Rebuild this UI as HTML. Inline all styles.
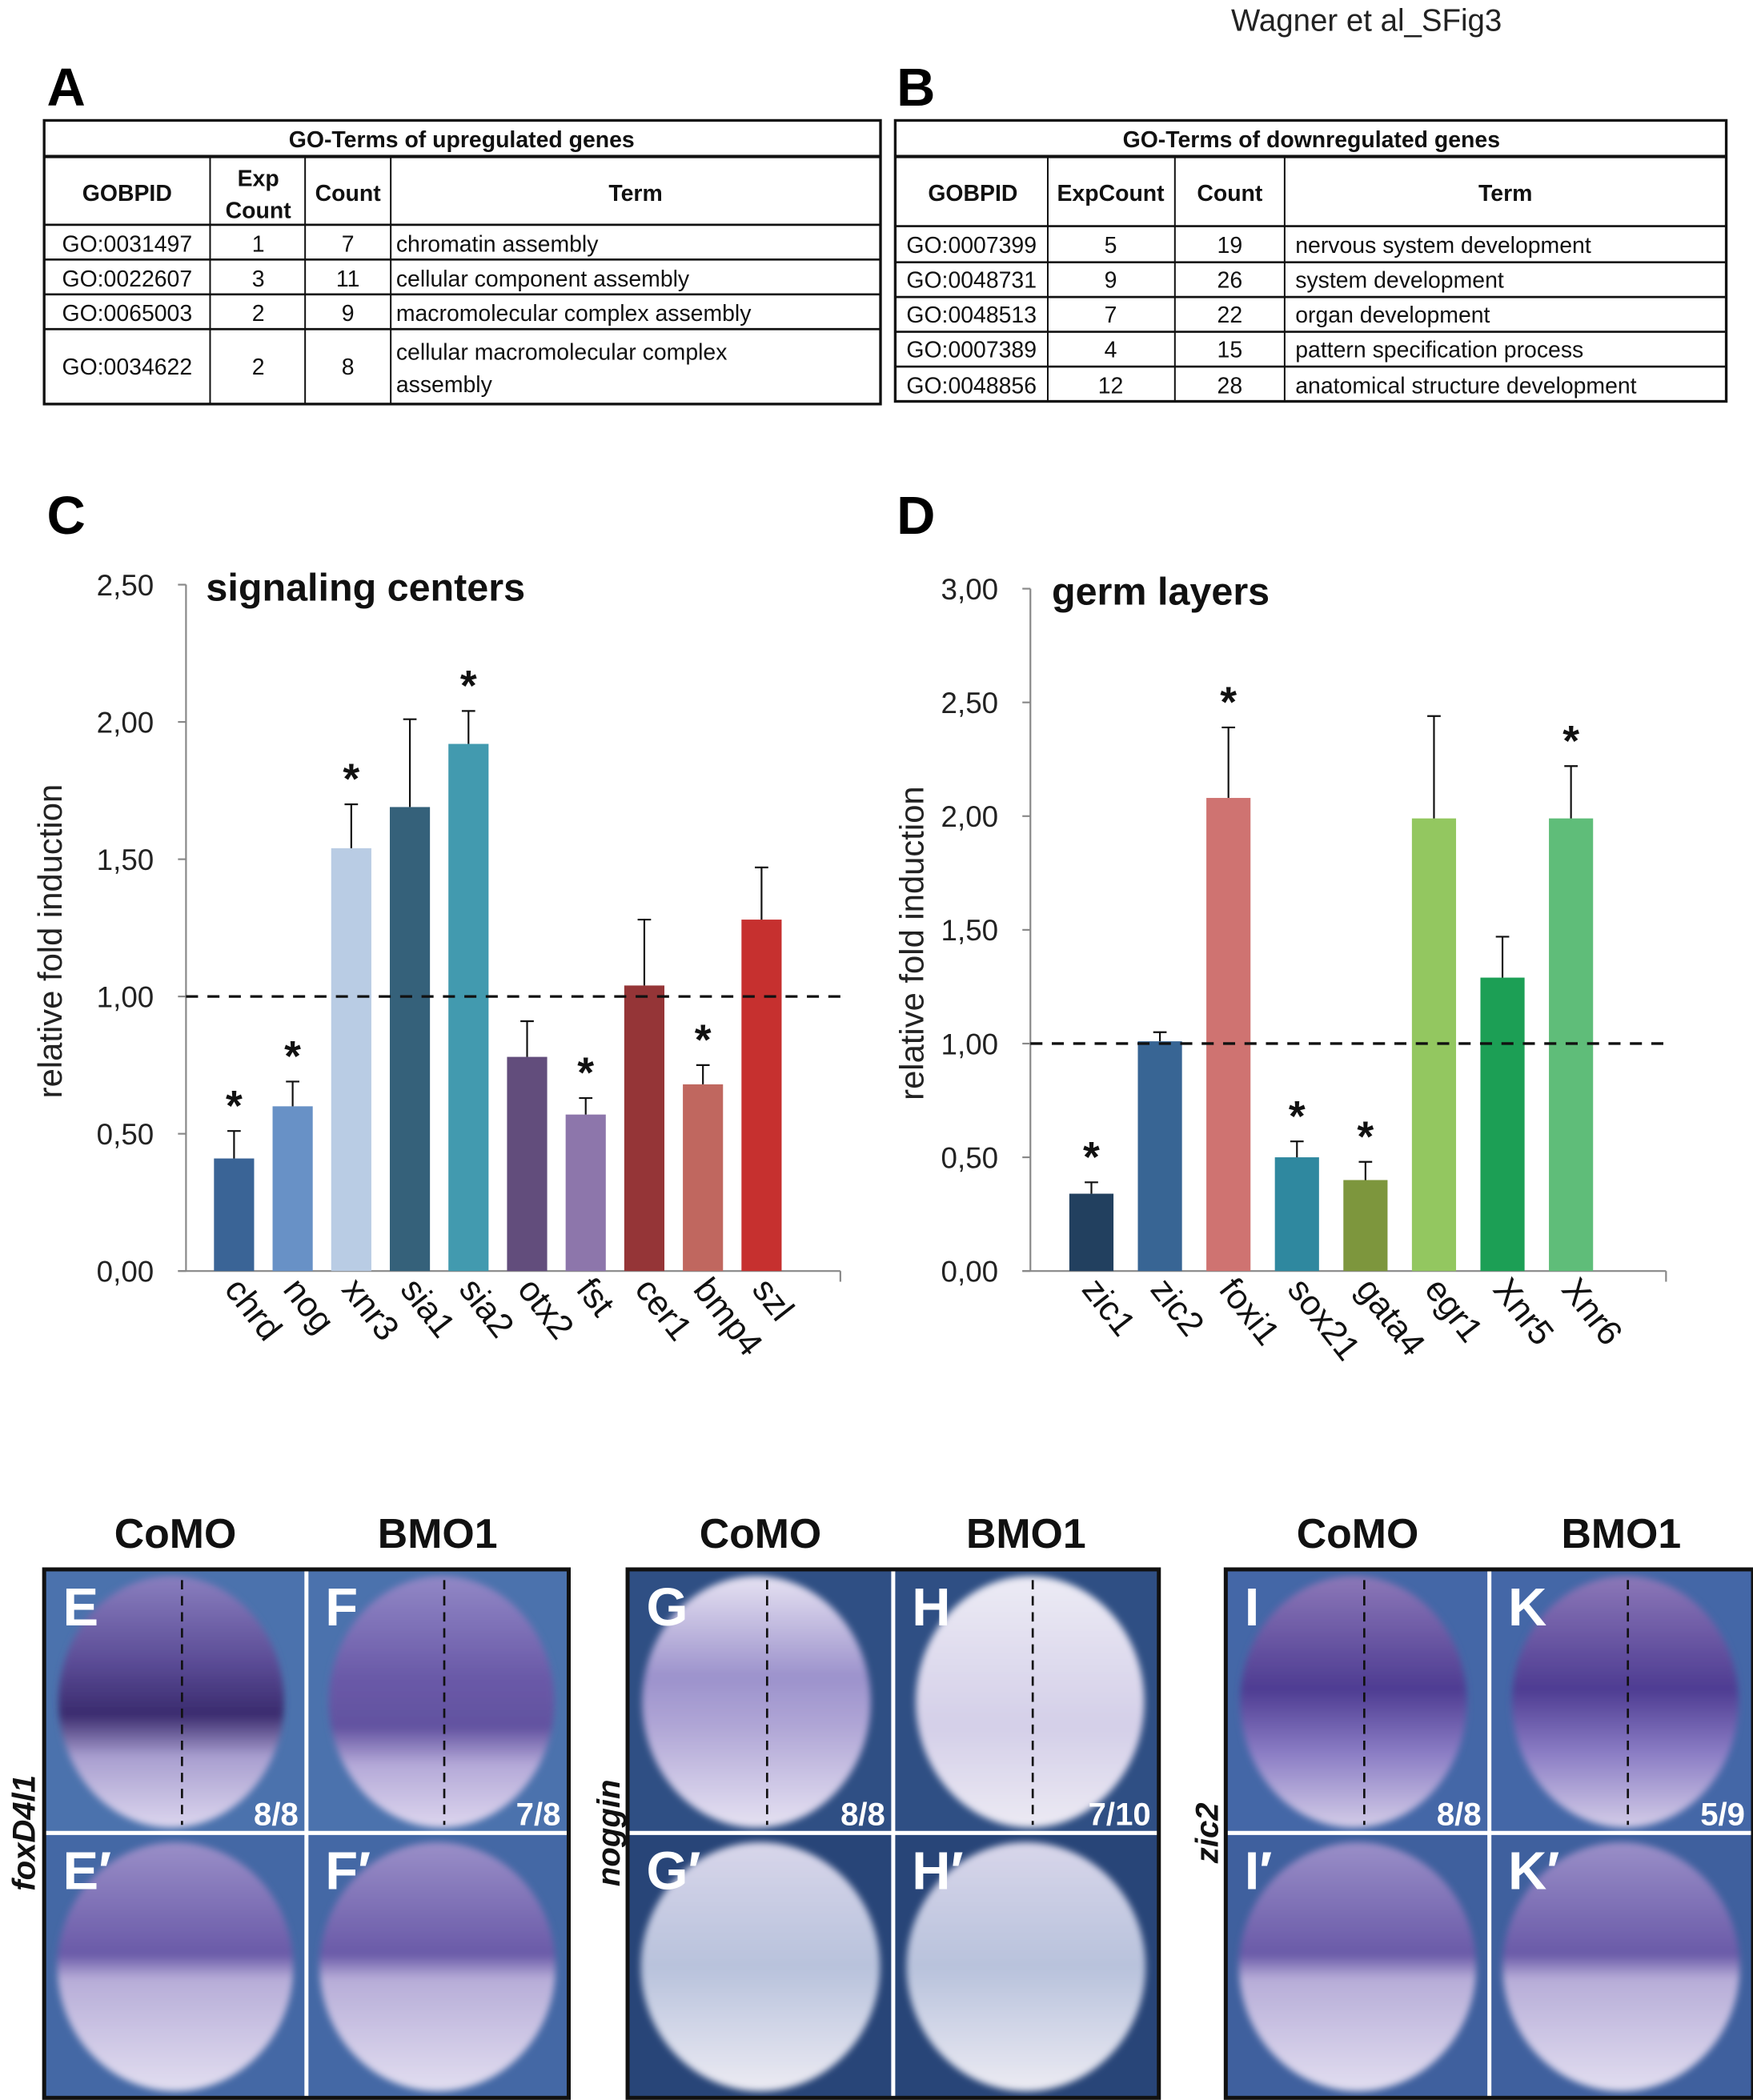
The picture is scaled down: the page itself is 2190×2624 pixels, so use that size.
<!DOCTYPE html>
<html><head><meta charset="utf-8"><title>Wagner et al SFig3</title>
<style>
html,body{margin:0;padding:0;background:#fff;}
svg{display:block;}
.t{font-family:"Liberation Sans Narrow","Liberation Sans",sans-serif;fill:#111;}
.s{font-family:"Liberation Sans","DejaVu Sans",sans-serif;}
</style></head>
<body>
<svg id="fig" xmlns="http://www.w3.org/2000/svg" width="2190" height="2624" viewBox="0 0 1310 1569.6" preserveAspectRatio="none">
<defs>
 <filter id="soft" x="-10%" y="-10%" width="120%" height="120%"><feGaussianBlur stdDeviation="2.5"/></filter>
 <linearGradient id="gE" x1="0" y1="0" x2="0" y2="1"><stop offset="0" stop-color="#8a7fbf"/><stop offset="0.35" stop-color="#5a4b95"/><stop offset="0.55" stop-color="#3a2b6e"/><stop offset="0.72" stop-color="#a99fd0"/><stop offset="1" stop-color="#dcd6ee"/></linearGradient>
 <linearGradient id="gF" x1="0" y1="0" x2="0" y2="1"><stop offset="0" stop-color="#9288c6"/><stop offset="0.4" stop-color="#6a5aa8"/><stop offset="0.6" stop-color="#6252a0"/><stop offset="0.75" stop-color="#b4a9d8"/><stop offset="1" stop-color="#ddd6ee"/></linearGradient>
 <linearGradient id="gG" x1="0" y1="0" x2="0" y2="1"><stop offset="0" stop-color="#e6e2f2"/><stop offset="0.4" stop-color="#9c92cc"/><stop offset="0.6" stop-color="#b0a6d6"/><stop offset="1" stop-color="#e6e2f2"/></linearGradient>
 <linearGradient id="gH" x1="0" y1="0" x2="0" y2="1"><stop offset="0" stop-color="#ecebf5"/><stop offset="0.6" stop-color="#d4cfe8"/><stop offset="1" stop-color="#eceaf4"/></linearGradient>
 <linearGradient id="gI" x1="0" y1="0" x2="0" y2="1"><stop offset="0" stop-color="#8c78b8"/><stop offset="0.45" stop-color="#4e3c92"/><stop offset="0.7" stop-color="#8a7cc4"/><stop offset="1" stop-color="#d4cde8"/></linearGradient>
 <linearGradient id="gS" x1="0" y1="0" x2="0" y2="1"><stop offset="0" stop-color="#9a8fc8"/><stop offset="0.45" stop-color="#6a5aa8"/><stop offset="0.55" stop-color="#b7add8"/><stop offset="1" stop-color="#e2def0"/></linearGradient>
 <linearGradient id="gSH" x1="0" y1="0" x2="0" y2="1"><stop offset="0" stop-color="#d8d6ea"/><stop offset="0.5" stop-color="#b8c2dc"/><stop offset="1" stop-color="#ecebf3"/></linearGradient>
</defs>
<rect x="0" y="0" width="1310" height="1569.6" fill="#fff"/>
<text x="920" y="23" class="s" font-size="23" fill="#222">Wagner et al_SFig3</text>
<text x="35" y="79" class="s" font-size="40" font-weight="bold">A</text>
<text x="670" y="79" class="s" font-size="40" font-weight="bold">B</text>

<g id="tableA" class="t" font-size="17" text-anchor="middle">
 <rect x="33" y="90" width="625" height="212" fill="none" stroke="#111" stroke-width="2"/>
 <line x1="33" y1="117" x2="658" y2="117" stroke="#111" stroke-width="2.5"/>
 <line x1="33" y1="168" x2="658" y2="168" stroke="#111" stroke-width="1.6"/>
 <line x1="33" y1="194" x2="658" y2="194" stroke="#111" stroke-width="1.6"/>
 <line x1="33" y1="220" x2="658" y2="220" stroke="#111" stroke-width="1.6"/>
 <line x1="33" y1="246" x2="658" y2="246" stroke="#111" stroke-width="1.6"/>
 <line x1="157" y1="117" x2="157" y2="302" stroke="#111" stroke-width="1.2"/>
 <line x1="228" y1="117" x2="228" y2="302" stroke="#111" stroke-width="1.2"/>
 <line x1="292" y1="117" x2="292" y2="302" stroke="#111" stroke-width="1.2"/>
 <text x="345" y="110" font-weight="bold">GO-Terms of upregulated genes</text>
 <text x="95" y="150" font-weight="bold">GOBPID</text>
 <text x="193" y="139" font-weight="bold">Exp</text><text x="193" y="163" font-weight="bold">Count</text>
 <text x="260" y="150" font-weight="bold">Count</text>
 <text x="475" y="150" font-weight="bold">Term</text>
 <text x="95" y="188">GO:0031497</text><text x="193" y="188">1</text><text x="260" y="188">7</text><text x="296" y="188" text-anchor="start">chromatin assembly</text>
 <text x="95" y="214">GO:0022607</text><text x="193" y="214">3</text><text x="260" y="214">11</text><text x="296" y="214" text-anchor="start">cellular component assembly</text>
 <text x="95" y="240">GO:0065003</text><text x="193" y="240">2</text><text x="260" y="240">9</text><text x="296" y="240" text-anchor="start">macromolecular complex assembly</text>
 <text x="95" y="280">GO:0034622</text><text x="193" y="280">2</text><text x="260" y="280">8</text><text x="296" y="269" text-anchor="start">cellular macromolecular complex</text><text x="296" y="293" text-anchor="start">assembly</text>
</g>

<g id="tableB" class="t" font-size="17" text-anchor="middle">
 <rect x="669" y="90" width="621" height="210" fill="none" stroke="#111" stroke-width="2"/>
 <line x1="669" y1="117" x2="1290" y2="117" stroke="#111" stroke-width="2.5"/>
 <line x1="669" y1="169" x2="1290" y2="169" stroke="#111" stroke-width="1.6"/>
 <line x1="669" y1="196" x2="1290" y2="196" stroke="#111" stroke-width="1.6"/>
 <line x1="669" y1="222" x2="1290" y2="222" stroke="#111" stroke-width="1.6"/>
 <line x1="669" y1="248" x2="1290" y2="248" stroke="#111" stroke-width="1.6"/>
 <line x1="669" y1="274" x2="1290" y2="274" stroke="#111" stroke-width="1.6"/>
 <line x1="783" y1="117" x2="783" y2="300" stroke="#111" stroke-width="1.2"/>
 <line x1="878" y1="117" x2="878" y2="300" stroke="#111" stroke-width="1.2"/>
 <line x1="960" y1="117" x2="960" y2="300" stroke="#111" stroke-width="1.2"/>
 <text x="980" y="110" font-weight="bold">GO-Terms of downregulated genes</text>
 <text x="727" y="150" font-weight="bold">GOBPID</text>
 <text x="830" y="150" font-weight="bold">ExpCount</text>
 <text x="919" y="150" font-weight="bold">Count</text>
 <text x="1125" y="150" font-weight="bold">Term</text>
 <text x="726" y="189">GO:0007399</text><text x="830" y="189">5</text><text x="919" y="189">19</text><text x="968" y="189" text-anchor="start">nervous system development</text>
 <text x="726" y="215">GO:0048731</text><text x="830" y="215">9</text><text x="919" y="215">26</text><text x="968" y="215" text-anchor="start">system development</text>
 <text x="726" y="241">GO:0048513</text><text x="830" y="241">7</text><text x="919" y="241">22</text><text x="968" y="241" text-anchor="start">organ development</text>
 <text x="726" y="267">GO:0007389</text><text x="830" y="267">4</text><text x="919" y="267">15</text><text x="968" y="267" text-anchor="start">pattern specification process</text>
 <text x="726" y="294">GO:0048856</text><text x="830" y="294">12</text><text x="919" y="294">28</text><text x="968" y="294" text-anchor="start">anatomical structure development</text>
</g>

<text x="35" y="399" class="s" font-size="40" font-weight="bold">C</text>
<text x="670" y="399" class="s" font-size="40" font-weight="bold">D</text>
<g id="chartC"></g>
<g id="chartD"></g>
<g id="photos"></g>
</svg>
<script>
// ---- Chart C data ----
const catsC = ["chrd","nog","xnr3","sia1","sia2","otx2","fst","cer1","bmp4","szl"];
const valsC = [0.41,0.60,1.54,1.69,1.92,0.78,0.57,1.04,0.68,1.28];
const errC  = [0.51,0.69,1.70,2.01,2.04,0.91,0.63,1.28,0.75,1.47];
const starC = [1,1,1,0,1,0,1,0,1,0];
const colC  = ["#3a6496","#6891c6","#b9cce4","#35617a","#429aaf","#624d7c","#8d76ab","#953537","#c0675f","#c6302f"];
const ticksC = ["0,00","0,50","1,00","1,50","2,00","2,50"];
const tickValsC = [0,0.5,1,1.5,2,2.5];
// ---- Chart D data ----
const catsD = ["zic1","zic2","foxi1","sox21","gata4","egr1","Xnr5","Xnr6"];
const valsD = [0.34,1.01,2.08,0.50,0.40,1.99,1.29,1.99];
const errD  = [0.39,1.05,2.39,0.57,0.48,2.44,1.47,2.22];
const starD = [1,0,1,1,1,0,0,1];
const colD  = ["#22405f","#386594","#cf7371","#2f889f","#7d963d","#93c760","#1c9f55","#5fbd79"];
const ticksD = ["0,00","0,50","1,00","1,50","2,00","2,50","3,00"];
const tickValsD = [0,0.5,1,1.5,2,2.5,3];

const NS="http://www.w3.org/2000/svg";
function mk(tag,attrs,parent){const e=document.createElementNS(NS,tag);for(const k in attrs)e.setAttribute(k,attrs[k]);parent.appendChild(e);return e;}

function drawChart(g,o){
  const y=v=>o.y0-(v-o.vmin)/(o.vmax-o.vmin)*(o.y0-o.y1);
  const x=i=>o.x0+o.step*(i+0.5)+o.off;
  const ax=mk('line',{x1:o.x0,y1:y(o.vmax),x2:o.x0,y2:o.y0,stroke:'#888','stroke-width':1.3},g);
  
  
  const xa=mk('line',{x1:o.x0-6,y1:o.y0,x2:o.xend,y2:o.y0,stroke:'#888','stroke-width':1.3},g);
  
  
  mk('line',{x1:o.xend,y1:o.y0,x2:o.xend,y2:o.y0+8,stroke:'#888','stroke-width':1.3},g);
  o.tv.forEach((v,i)=>{
    mk('line',{x1:o.x0-6,y1:y(v),x2:o.x0,y2:y(v),stroke:'#888','stroke-width':1.3},g);
    const t=mk('text',{x:o.x0-24,y:y(v)+8,'text-anchor':'end','font-size':22,class:'s',fill:'#222'},g);
    t.textContent=o.tl[i];
    
    
  });
  const yt=mk('text',{x:0,y:0,'text-anchor':'middle','font-size':25,class:'s',fill:'#222',transform:`translate(${o.tx},${(y(o.vmax)+o.y0)/2+10}) rotate(-90)`},g);
  yt.textContent='relative fold induction';
  
  
  const tt=mk('text',{x:o.titleX,y:y(o.vmax)+12,'font-size':29,'font-weight':'bold',class:'s',fill:'#111'},g);
  tt.textContent=o.title;
  
  
  o.cats.forEach((c,i)=>{
    const cx=x(i);
    const b=mk('rect',{x:cx-o.bw/2,y:y(o.vals[i]),width:o.bw,height:o.y0-y(o.vals[i]),fill:o.cols[i]},g);
    
    
    const e=mk('path',{d:`M${cx},${y(o.vals[i])}V${y(o.err[i])}M${cx-5},${y(o.err[i])}H${cx+5}`,stroke:'#111','stroke-width':1.3,fill:'none'},g);
    
    
    if(o.star[i]){
      const s=mk('text',{x:cx,y:y(o.err[i])-8,'text-anchor':'middle','font-size':32,'font-weight':'bold',class:'s',fill:'#111'},g);
      s.textContent='*';
      
      
    }
    const l=mk('text',{x:0,y:0,'font-size':26,class:'s',fill:'#111',transform:`translate(${cx-8},${o.y0+14}) rotate(52)`},g);
    l.textContent=c;
    
    
  });
  const d=mk('line',{x1:o.x0,y1:y(1),x2:o.xend,y2:y(1),stroke:'#111','stroke-width':2,'stroke-dasharray':'9,7'},g);
  
  
}
drawChart(document.getElementById('chartC'),{x0:139,xend:628,y0:950,y1:437,vmin:0,vmax:2.5,step:43.8,off:14,bw:30,
  cats:catsC,vals:valsC,err:errC,star:starC,cols:colC,tl:ticksC,tv:tickValsC,tx:46,title:'signaling centers',titleX:154});
drawChart(document.getElementById('chartD'),{x0:770,xend:1245,y0:950,y1:440,vmin:0,vmax:3,step:51.2,off:20,bw:33,
  cats:catsD,vals:valsD,err:errD,star:starD,cols:colD,tl:ticksD,tv:tickValsD,tx:690,title:'germ layers',titleX:786});

// ---- photo panels ----
const P=document.getElementById('photos');
const groups=[
 {x:33,w:392,bg:'#4b72ad',bg2:'#3f62a0',gene:'foxD4l1',labs:['E','F',"E\u2032","F\u2032"],fr:['8/8','7/8'],top:['gE','gF'],bot:['gS','gS'],hd:['CoMO','BMO1'],gx:18},
 {x:469,w:397,bg:'#2f4f84',bg2:'#25406f',gene:'noggin',labs:['G','H',"G\u2032","H\u2032"],fr:['8/8','7/10'],top:['gG','gH'],bot:['gSH','gSH'],hd:['CoMO','BMO1'],gx:455},
 {x:916,w:394,bg:'#4467a7',bg2:'#3c5c98',gene:'zic2',labs:['I','K',"I\u2032","K\u2032"],fr:['8/8','5/9'],top:['gI','gI'],bot:['gS','gS'],hd:['CoMO','BMO1'],gx:902}
];
const Y0=1173,Y1=1568,YM=1370;
groups.forEach((G,gi)=>{
  const g=mk('g',{},P);
  
  
  const xm=G.x+G.w/2;
  mk('rect',{x:G.x,y:Y0,width:G.w,height:Y1-Y0,fill:G.bg},g);
  mk('rect',{x:G.x,y:YM,width:G.w,height:Y1-YM,fill:G.bg2,opacity:0.6},g);
  const cols=[[G.x,xm],[xm,G.x+G.w]];
  cols.forEach((c,ci)=>{
    const cx=(c[0]+c[1])/2;
    const e1=mk('ellipse',{cx:cx+(ci?3:-3),cy:1272,rx:(c[1]-c[0])*0.43,ry:94,fill:`url(#${G.top[ci]})`,filter:'url(#soft)'},g);
    
    
    const e2=mk('ellipse',{cx:cx,cy:1470,rx:(c[1]-c[0])*0.45,ry:93,fill:`url(#${G.bot[ci]})`,filter:'url(#soft)'},g);
    
    
    mk('line',{x1:cx+5,y1:Y0+8,x2:cx+5,y2:YM-6,stroke:'#111','stroke-width':1.6,'stroke-dasharray':'7,5'},g);
    [[G.labs[ci],1215],[G.labs[ci+2],1412]].forEach(([t,yy])=>{
      const l=mk('text',{x:c[0]+14,y:yy,'font-size':40,'font-weight':'bold',class:'s',fill:'#fff'},g);
      l.textContent=t;
      
      
    });
    const f=mk('text',{x:c[1]-6,y:1364,'text-anchor':'end','font-size':24,'font-weight':'bold',class:'s',fill:'#fff'},g);
    f.textContent=G.fr[ci];
    
    
    const h=mk('text',{x:cx,y:1157,'text-anchor':'middle','font-size':31,'font-weight':'bold',class:'s',fill:'#111'},g);
    h.textContent=G.hd[ci];
    
    
  });
  mk('line',{x1:xm,y1:Y0,x2:xm,y2:Y1,stroke:'#fff','stroke-width':3},g);
  mk('line',{x1:G.x,y1:YM,x2:G.x+G.w,y2:YM,stroke:'#fff','stroke-width':3},g);
  mk('rect',{x:G.x,y:Y0,width:G.w,height:Y1-Y0,fill:'none',stroke:'#111','stroke-width':3},g);
  const gl=mk('text',{x:0,y:0,'text-anchor':'middle','font-size':24,'font-weight':'bold','font-style':'italic',class:'s',fill:'#111',transform:`translate(${G.gx+8},${YM}) rotate(-90)`},g);
  gl.textContent=G.gene;
  
  
});
</script>
</body></html>
